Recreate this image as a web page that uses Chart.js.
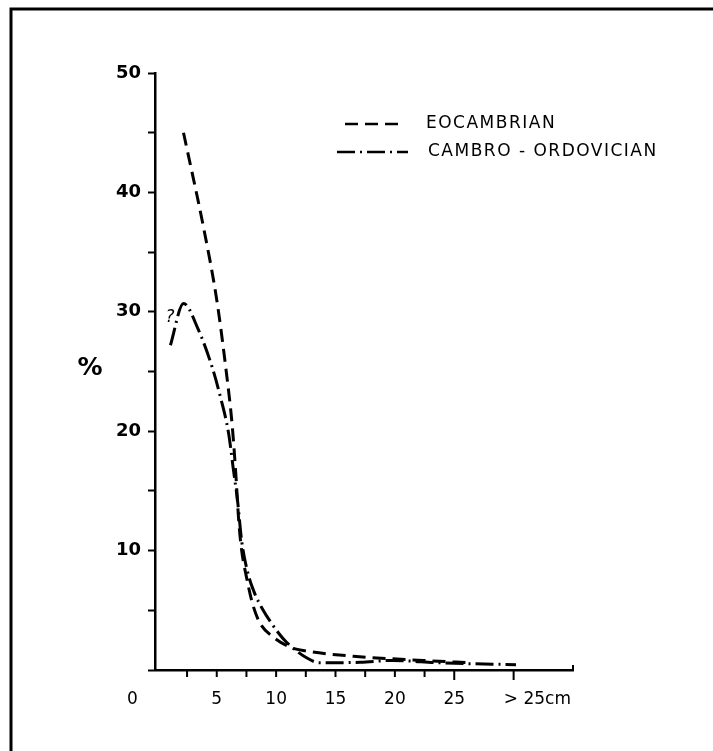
<!DOCTYPE html>
<html>
<head>
<meta charset="utf-8">
<script src="https://cdn.jsdelivr.net/npm/chart.js@4.4.1/dist/chart.umd.min.js"></script>
<style>
  html, body { margin: 0; padding: 0; background: #fff; }
  #wrap { width: 713px; height: 751px; position: relative; }
</style>
</head>
<body>
<div id="wrap"><canvas id="grainChart" width="713" height="751"></canvas></div>
<script>
// values (x = size in cm, y = %)
const eoX = [2.2, 3.9, 5.0, 5.8, 6.3, 6.6, 6.85, 7.1, 7.5, 8.0, 8.6, 9.7, 11.2, 12.5, 16.5, 22.4, 26.5];
const eoY = [45, 37, 31, 25, 20.5, 16.5, 12.5, 10, 7.8, 5.6, 4.0, 2.8, 1.9, 1.6, 1.15, 0.8, 0.6];

const coX = [1.1, 2.2, 3.45, 4.6, 5.3, 6.0, 6.4, 6.75, 7.1, 7.6, 8.2, 8.8, 10.2, 10.9, 12.6, 13.7, 17.1, 19.8, 23.8, 30.2];
const coY = [27.2, 30.7, 28.5, 25.4, 22.9, 19.8, 16.8, 14.2, 10.8, 8.2, 6.4, 5.2, 3.1, 2.3, 1.0, 0.6, 0.65, 0.8, 0.6, 0.45];

const seriesNames = ['EOCAMBRIAN', 'CAMBRO - ORDOVICIAN'];
const xTickValues = [2.5, 5, 7.5, 10, 12.5, 15, 17.5, 20, 22.5, 25, 30];
const xLabelValues = [-2.1, 5, 10, 15, 20, 25, 32];
const xLabels = ['0', '5', '10', '15', '20', '25', '> 25cm'];

const eoDash = [13, 7];
const coDash = [18, 5, 2, 5];

function toPoints(xs, ys) {
  return xs.map((x, i) => ({ x: x, y: ys[i] }));
}

// frame, x axis ticks/labels, % sign, legend, question mark
const decorations = {
  id: 'decorations',
  afterDraw(chart) {
    const ctx = chart.ctx;
    const xs = chart.scales.x;
    const ys = chart.scales.y;
    const y0 = ys.getPixelForValue(0);
    ctx.save();
    ctx.strokeStyle = '#000';
    ctx.fillStyle = '#000';

    // outer frame (left and top only, rest is cropped)
    ctx.lineWidth = 3;
    ctx.setLineDash([]);
    ctx.beginPath();
    ctx.moveTo(11, 751);
    ctx.lineTo(11, 9);
    ctx.lineTo(713, 9);
    ctx.stroke();

    // x ticks
    ctx.lineWidth = 2;
    xTickValues.forEach(v => {
      const px = xs.getPixelForValue(v);
      const len = v >= 25 ? 10 : 7;
      ctx.beginPath();
      ctx.moveTo(px, y0);
      ctx.lineTo(px, y0 + len);
      ctx.stroke();
    });
    // end tick
    const xe = xs.getPixelForValue(xs.max);
    ctx.beginPath();
    ctx.moveTo(xe, y0 + 1);
    ctx.lineTo(xe, y0 - 5);
    ctx.stroke();

    // x labels
    ctx.font = '17px "DejaVu Sans"';
    ctx.textAlign = 'center';
    ctx.textBaseline = 'middle';
    xLabels.forEach((t, i) => {
      ctx.fillText(t, xs.getPixelForValue(xLabelValues[i]), 700);
    });

    // % sign
    ctx.font = 'bold 25px "DejaVu Sans"';
    ctx.fillText('%', 90, 368);

    // question mark at start of cambro-ordovician curve
    ctx.font = 'italic 17px "DejaVu Sans"';
    ctx.fillText('?', 170, 318);

    // legend
    ctx.lineWidth = 2.5;
    ctx.textAlign = 'left';
    ctx.font = '17px "DejaVu Sans"';
    ctx.setLineDash(eoDash);
    ctx.beginPath();
    ctx.moveTo(345, 124);
    ctx.lineTo(402, 124);
    ctx.stroke();
    ctx.setLineDash(coDash);
    ctx.beginPath();
    ctx.moveTo(337, 152);
    ctx.lineTo(408, 152);
    ctx.stroke();
    ctx.setLineDash([]);
    ctx.letterSpacing = '1.5px';
    ctx.fillText(seriesNames[0], 426, 124);
    ctx.fillText(seriesNames[1], 428, 152);
    ctx.restore();
  }
};

const ctx = document.getElementById('grainChart').getContext('2d');
const grainChart = new Chart(ctx, {
  type: 'line',
  data: {
    datasets: [{
      label: seriesNames[0],
      data: toPoints(eoX, eoY),
      borderColor: '#000',
      borderWidth: 3,
      borderDash: eoDash,
      cubicInterpolationMode: 'monotone',
      pointRadius: 0,
      fill: false
    }, {
      label: seriesNames[1],
      data: toPoints(coX, coY),
      borderColor: '#000',
      borderWidth: 3,
      borderDash: coDash,
      cubicInterpolationMode: 'monotone',
      pointRadius: 0,
      fill: false
    }]
  },
  options: {
    responsive: false,
    animation: false,
    layout: { padding: { left: 0, right: 140, top: 73, bottom: 0 } },
    plugins: {
      legend: { display: false },
      tooltip: { enabled: false }
    },
    scales: {
      x: {
        type: 'linear',
        min: -0.2,
        max: 35,
        grid: { display: false },
        ticks: { display: false },
        border: { display: true, color: '#000', width: 2.5 },
        afterFit: s => { s.height = 81; }
      },
      y: {
        min: 0,
        max: 50,
        afterFit: s => { s.width = 155; },
        border: { display: true, color: '#000', width: 2.5 },
        grid: {
          drawOnChartArea: false,
          tickLength: 7,
          tickWidth: 2,
          tickColor: '#000'
        },
        ticks: {
          stepSize: 5,
          padding: 7,
          color: '#000',
          font: { family: 'DejaVu Sans', size: 18, weight: 'bold' },
          callback: v => (v > 0 && v % 10 === 0) ? String(v) : ''
        }
      }
    }
  },
  plugins: [decorations]
});
</script>
</body>
</html>
